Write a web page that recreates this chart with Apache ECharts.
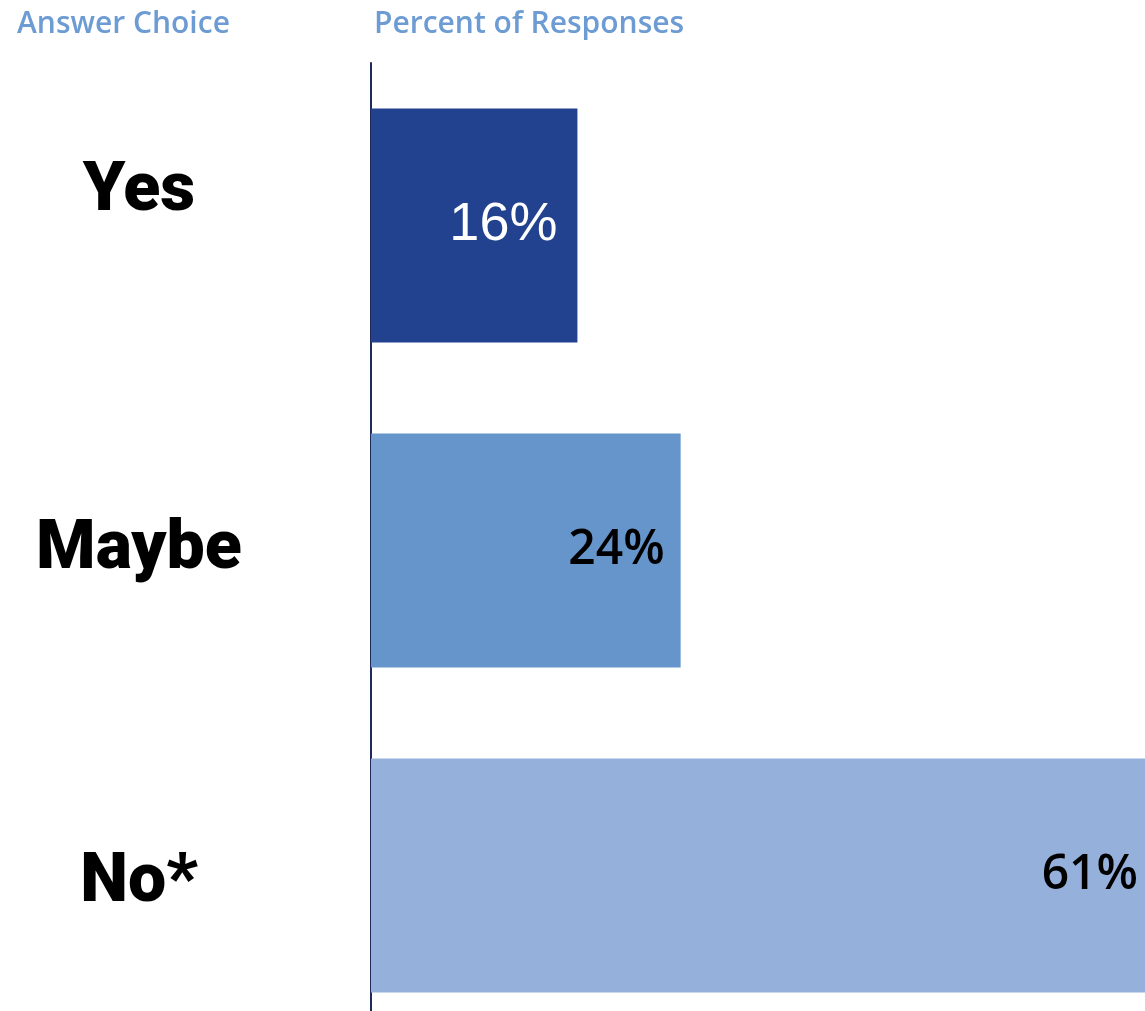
<!DOCTYPE html>
<html>
<head>
<meta charset="utf-8">
<style>
  html, body { margin: 0; padding: 0; background: #ffffff; }
  #chart { width: 1145px; height: 1011px; }
</style>
<script src="https://cdn.jsdelivr.net/npm/echarts@6/dist/echarts.min.js"></script>
</head>
<body>
<div id="chart"></div>
<script>
const categories = ['Yes', 'Maybe', 'No*'];
const percentValues = [16, 24, 61];
const barColors = ['#22418f', '#6595ca', '#95b1db'];
const labelColors = ['#ffffff', '#000000', '#000000'];
const axisTitles = ['Answer Choice', 'Percent of Responses'];

const chart = echarts.init(document.getElementById('chart'), null, { renderer: 'canvas' });

const seriesData = percentValues.map((v, i) => ({
  value: v,
  itemStyle: { color: barColors[i] },
  label: i === 0
    ? { color: labelColors[i], fontFamily: 'Liberation Sans', fontSize: 54, fontWeight: 'normal', distance: 20 }
    : { color: labelColors[i], fontFamily: 'Open Sans', fontSize: 48, fontWeight: 600, distance: i === 1 ? 16 : 20 }
}));

const catFont = { color: '#000000', fontFamily: 'Roboto', fontWeight: 900, fontSize: 68 };

chart.setOption({
  backgroundColor: '#ffffff',
  animation: false,
  title: [
    { text: axisTitles[0], left: 12, top: 4,
      textStyle: { color: '#6d9bd3', fontFamily: 'Open Sans', fontWeight: 600, fontSize: 30 } },
    { text: axisTitles[1], left: 369, top: 4,
      textStyle: { color: '#6d9bd3', fontFamily: 'Open Sans', fontWeight: 600, fontSize: 30 } }
  ],
  grid: { left: 371, top: 63, width: 787, height: 975, containLabel: false, outerBoundsMode: 'none' },
  xAxis: {
    type: 'value', min: 0, max: 61,
    show: false
  },
  yAxis: {
    type: 'category',
    data: categories,
    inverse: true,
    axisLine: { show: true, lineStyle: { color: '#1f2a5a', width: 2 } },
    axisTick: { show: false },
    splitLine: { show: false },
    axisLabel: Object.assign({
      margin: 232,
      align: 'center',
      formatter: (value, index) => '{c' + index + '|' + value + '}',
      rich: {
        c0: Object.assign({ padding: [0, 0, 66, 0] }, catFont),
        c1: Object.assign({}, catFont),
        c2: Object.assign({ padding: [16, 0, 0, 0] }, catFont)
      }
    }, catFont)
  },
  series: [{
    type: 'bar',
    data: seriesData,
    barCategoryGap: '28%',
    label: {
      show: true,
      position: 'insideRight',
      formatter: (p) => p.value + '%'
    }
  }]
});
</script>
</body>
</html>
